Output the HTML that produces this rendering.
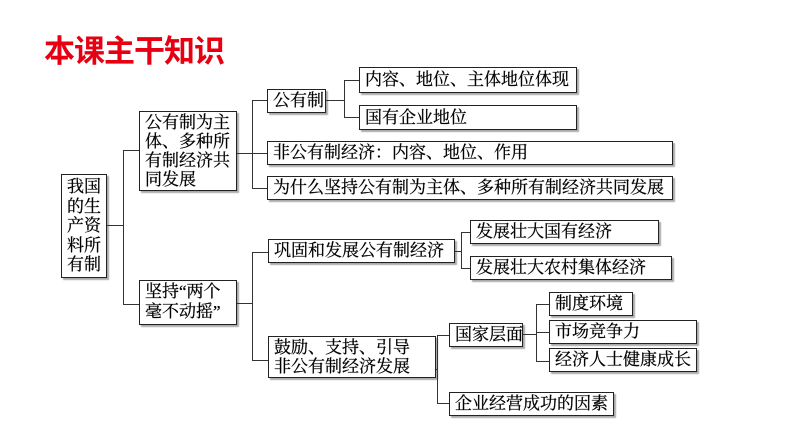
<!DOCTYPE html>
<html><head><meta charset="utf-8"><style>
html,body{margin:0;padding:0;background:#fff;}
body{width:794px;height:447px;position:relative;overflow:hidden;font-family:"Liberation Serif","Noto Serif CJK SC","Noto Sans CJK SC",serif;}
.b{position:absolute;border:1.5px solid #222;box-sizing:border-box;background:#fff;font-size:17px;line-height:20px;color:#000;padding:1px 5px;box-shadow:2px 2px 1px #aaa;white-space:nowrap;-webkit-text-stroke:0.25px #000;}
.h{position:absolute;height:0;border-top:1.5px solid #333;}
.v{position:absolute;width:0;border-left:1.5px solid #333;}
.t{position:absolute;left:44px;top:26px;font-family:"Liberation Sans","Noto Sans CJK SC",sans-serif;font-weight:bold;font-size:31px;color:#e60012;letter-spacing:-1px;}
</style></head><body>
<div class="t">本课主干知识</div>

<div class="b" style="left:61px;top:174px;width:46px;height:104px;padding:2px 5px;line-height:19.5px;white-space:normal">我国的生产资料所有制</div>
<div class="h" style="left:107px;top:225px;width:16px"></div>
<div class="v" style="left:123px;top:150px;height:155px"></div>
<div class="h" style="left:123px;top:150px;width:16px"></div>
<div class="h" style="left:123px;top:304px;width:16px"></div>

<div class="b" style="left:139px;top:111px;width:98px;height:80px;white-space:normal;padding:1px 5px;line-height:19px">公有制为主体、多种所有制经济共同发展</div>
<div class="b" style="left:139px;top:280px;width:98px;height:45px;white-space:normal;padding:1px 5px;line-height:20px">坚持“两个毫不动摇”</div>

<div class="h" style="left:237px;top:153px;width:15px"></div>
<div class="v" style="left:252px;top:100px;height:89px"></div>
<div class="h" style="left:252px;top:100px;width:15px"></div>
<div class="h" style="left:252px;top:153px;width:15px"></div>
<div class="h" style="left:252px;top:188px;width:15px"></div>

<div class="b" style="left:267px;top:89px;width:59px;height:24px">公有制</div>
<div class="b" style="left:267px;top:141px;width:406px;height:24px">非公有制经济：内容、地位、作用</div>
<div class="b" style="left:267px;top:176px;width:406px;height:24px">为什么坚持公有制为主体、多种所有制经济共同发展</div>

<div class="h" style="left:326px;top:100px;width:18px"></div>
<div class="v" style="left:344px;top:80px;height:38px"></div>
<div class="h" style="left:344px;top:80px;width:15px"></div>
<div class="h" style="left:344px;top:117px;width:15px"></div>
<div class="b" style="left:359px;top:67px;width:218px;height:26px;padding-top:2px">内容、地位、主体地位体现</div>
<div class="b" style="left:359px;top:105px;width:218px;height:25px;padding-top:2px">国有企业地位</div>

<div class="h" style="left:237px;top:303px;width:15px"></div>
<div class="v" style="left:252px;top:252px;height:109px"></div>
<div class="h" style="left:252px;top:252px;width:16px"></div>
<div class="h" style="left:252px;top:360px;width:16px"></div>
<div class="b" style="left:268px;top:239px;width:187px;height:24px">巩固和发展公有制经济</div>
<div class="b" style="left:268px;top:336px;width:168px;height:42px;line-height:19px">鼓励、支持、引导<br>非公有制经济发展</div>

<div class="h" style="left:455px;top:251px;width:6px"></div>
<div class="v" style="left:461px;top:232px;height:37px"></div>
<div class="h" style="left:461px;top:232px;width:9px"></div>
<div class="h" style="left:461px;top:268px;width:9px"></div>
<div class="b" style="left:470px;top:220px;width:189px;height:24px">发展壮大国有经济</div>
<div class="b" style="left:470px;top:256px;width:202px;height:24px">发展壮大农村集体经济</div>

<div class="h" style="left:436px;top:369px;width:2px"></div>
<div class="v" style="left:437px;top:335px;height:69px"></div>
<div class="h" style="left:437px;top:335px;width:12px"></div>
<div class="h" style="left:437px;top:403px;width:12px"></div>
<div class="b" style="left:449px;top:323px;width:74px;height:24px">国家层面</div>
<div class="b" style="left:449px;top:392px;width:165px;height:24px">企业经营成功的因素</div>

<div class="h" style="left:523px;top:334px;width:13px"></div>
<div class="v" style="left:536px;top:304px;height:58px"></div>
<div class="h" style="left:536px;top:304px;width:13px"></div>
<div class="h" style="left:536px;top:332px;width:13px"></div>
<div class="h" style="left:536px;top:361px;width:13px"></div>
<div class="b" style="left:549px;top:292px;width:84px;height:24px">制度环境</div>
<div class="b" style="left:549px;top:320px;width:148px;height:24px">市场竞争力</div>
<div class="b" style="left:549px;top:348px;width:148px;height:24px">经济人士健康成长</div>
</body></html>
